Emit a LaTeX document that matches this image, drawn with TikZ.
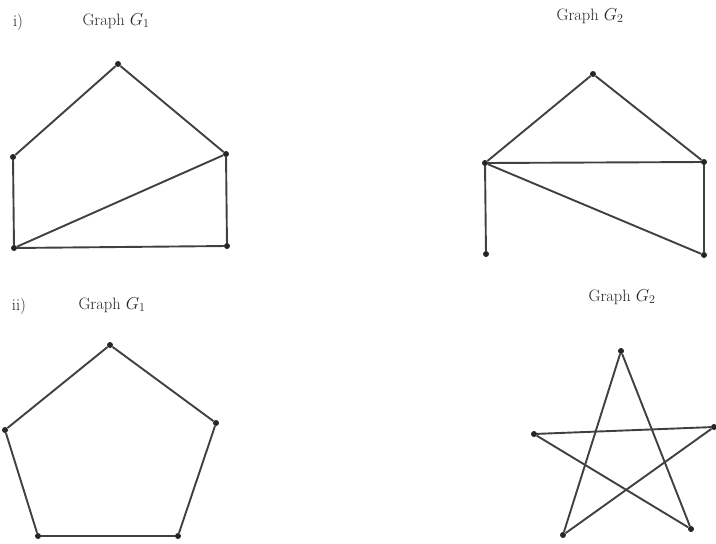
\documentclass[tikz,border=0pt]{standalone}
\usepackage{tikz}
\usetikzlibrary{positioning}

\begin{document}
\begin{tikzpicture}[
    x=1pt, y=-1pt,
    vert/.style={circle, fill=black!85, inner sep=0pt, minimum size=6pt},
    edge/.style={draw=black!75, line width=1.9pt},
    lbl/.style={font=\fontsize{16.5}{20}\selectfont, text=black!85, inner sep=0pt}
]
    \useasboundingbox (0,0) rectangle (716,544);

    % part i)
    \node[lbl] (ia) at (18,22) {i)};
    \node[lbl] (ga) at (116,21) {Graph $G_1$};
    \node[lbl] (gb) at (590,16) {Graph $G_2$};

    \node[vert] (a1) at (118,64) {};
    \node[vert] (a2) at (13,157) {};
    \node[vert] (a3) at (226,154) {};
    \node[vert] (a4) at (14,248) {};
    \node[vert] (a5) at (227,246) {};

    \draw[edge] (a1) -- (a2);
    \draw[edge] (a1) -- (a3);
    \draw[edge] (a2) -- (a4);
    \draw[edge] (a4) -- (a5);
    \draw[edge] (a4) -- (a3);
    \draw[edge] (a3) -- (a5);

    \node[vert] (b1) at (593,74) {};
    \node[vert] (b2) at (485,163) {};
    \node[vert] (b3) at (704,162) {};
    \node[vert] (b4) at (486,254) {};
    \node[vert] (b5) at (704,255) {};

    \draw[edge] (b1) -- (b2);
    \draw[edge] (b1) -- (b3);
    \draw[edge] (b2) -- (b3);
    \draw[edge] (b2) -- (b4);
    \draw[edge] (b2) -- (b5);
    \draw[edge] (b3) -- (b5);

    % part ii)
    \node[lbl] (iia) at (19,306) {ii)};
    \node[lbl] (gc) at (112,305) {Graph $G_1$};
    \node[lbl] (gd) at (622,297) {Graph $G_2$};

    \node[vert] (c1) at (110,345) {};
    \node[vert] (c2) at (5,430) {};
    \node[vert] (c3) at (216,423) {};
    \node[vert] (c4) at (38,536) {};
    \node[vert] (c5) at (178,536) {};

    \draw[edge] (c1) -- (c2);
    \draw[edge] (c1) -- (c3);
    \draw[edge] (c2) -- (c4);
    \draw[edge] (c4) -- (c5);
    \draw[edge] (c3) -- (c5);

    \node[vert] (d1) at (621,351) {};
    \node[vert] (d2) at (534,434) {};
    \node[vert] (d3) at (714,427) {};
    \node[vert] (d4) at (563,535) {};
    \node[vert] (d5) at (691,529) {};

    \draw[edge] (d1) -- (d4);
    \draw[edge] (d1) -- (d5);
    \draw[edge] (d2) -- (d3);
    \draw[edge] (d2) -- (d5);
    \draw[edge] (d3) -- (d4);
\end{tikzpicture}
\end{document}
